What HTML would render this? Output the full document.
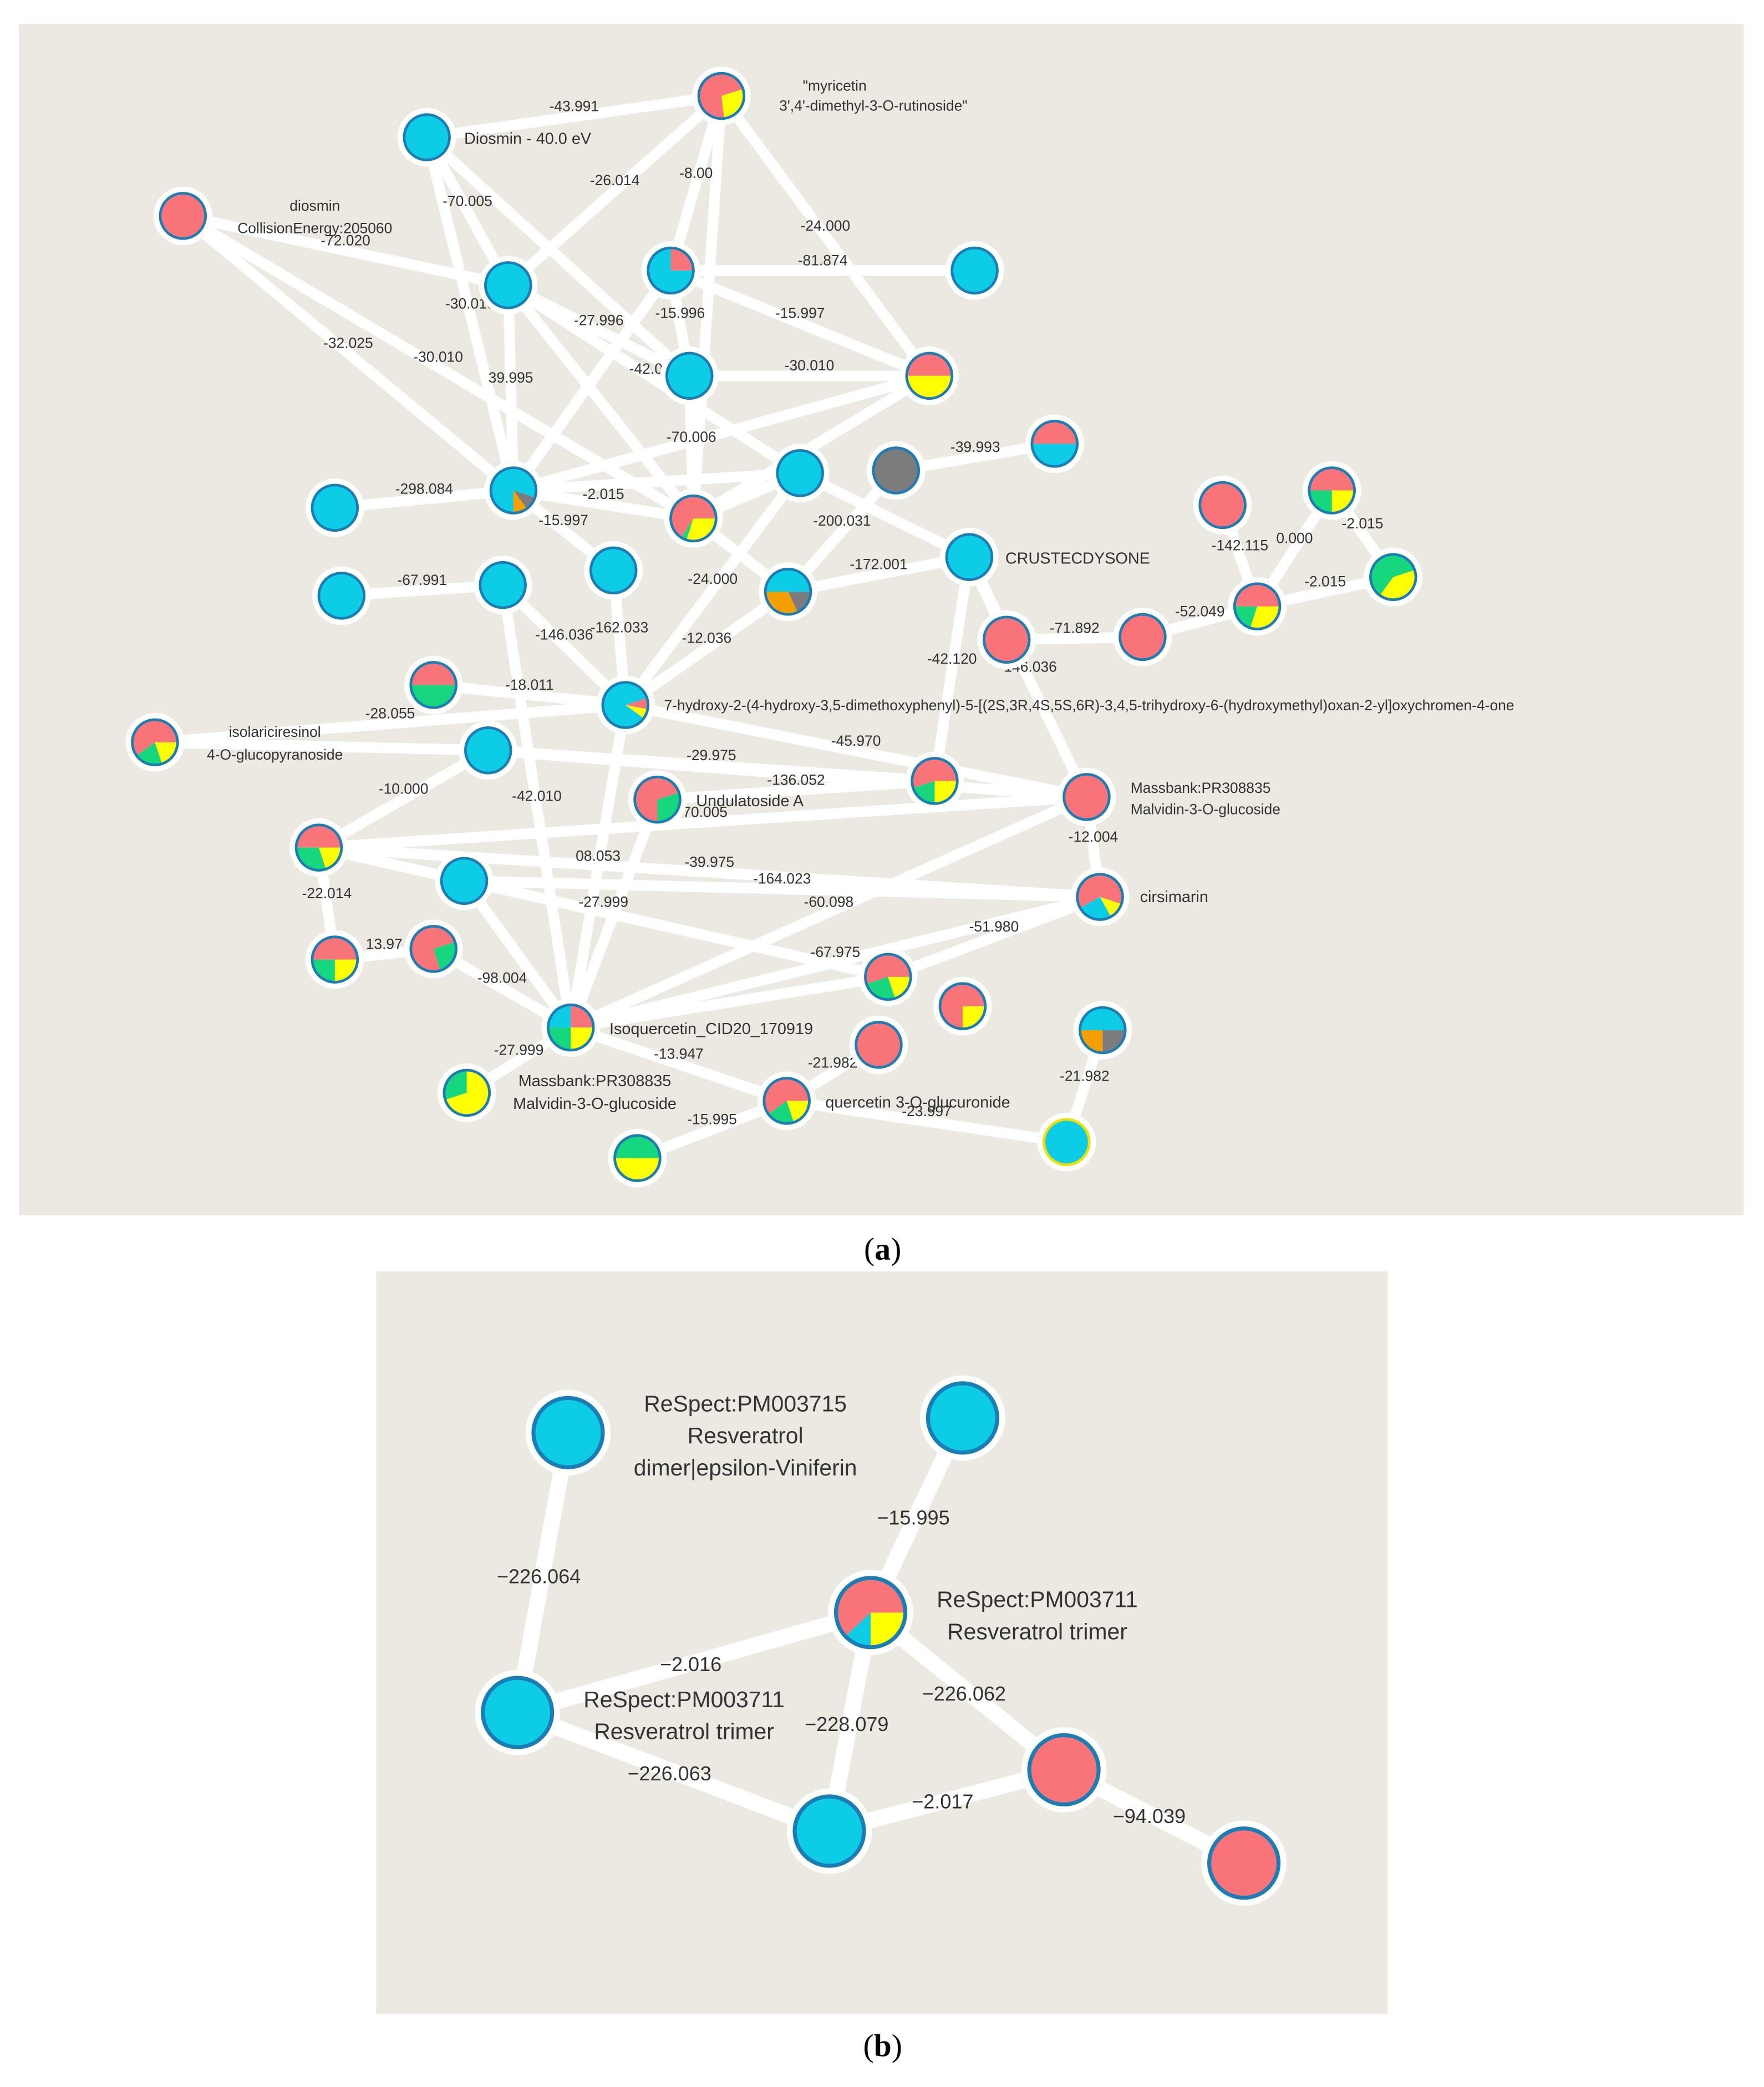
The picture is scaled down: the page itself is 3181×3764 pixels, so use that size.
<!DOCTYPE html>
<html><head><meta charset="utf-8"><style>
html,body{margin:0;padding:0;background:#fff;width:3181px;height:3764px;overflow:hidden}
svg{display:block}
</style></head><body>
<svg id="s" width="3181" height="3764" viewBox="0 0 1323 1566" xmlns="http://www.w3.org/2000/svg" font-family="Liberation Sans, sans-serif">
<rect x="14" y="18" width="1294" height="894" fill="#ece8e2"/>
<rect x="282" y="954" width="759" height="557" fill="#ece8e2"/>
<g id="ea" stroke="#fff" stroke-width="8" stroke-linecap="round"></g>
<g id="eb" stroke="#fff" stroke-width="12" stroke-linecap="round"></g>
<g id="la" font-size="11" fill="#333"></g>
<g id="na"></g>
<g id="tx" fill="#333"></g>
<text x="662" y="945" font-family="Liberation Serif, serif" font-size="24" text-anchor="middle" fill="#000">(<tspan font-weight="bold">a</tspan>)</text>
<text x="662" y="1543" font-family="Liberation Serif, serif" font-size="24" text-anchor="middle" fill="#000">(<tspan font-weight="bold">b</tspan>)</text>
</svg>
<script>
var R='#f87479',B='#0ccce6',Y='#ffff00',G='#16d67e',O='#f5a000',K='#7c7c7c';
var NS='http://www.w3.org/2000/svg';
function el(t,a,p){var e=document.createElementNS(NS,t);for(var k in a)e.setAttribute(k,a[k]);p.appendChild(e);return e;}
function ygr(y,g){return [[Y,y],[G,g],[R,1-y-g]];}
var N={
1:[541,72,[[Y,.28],[R,.72]],.2],2:[320,103,[[B,1]]],3:[137,162,[[R,1]]],4:[381,214,[[B,1]]],
5:[503,203,[[R,.25],[B,.75]]],6:[731,203,[[B,1]]],7:[517,282,[[B,1]]],8:[697,282,[[Y,.5],[R,.5]],.25],
9:[385,368,[[K,.1],[O,.1],[B,.8]],.3],10:[251,381,[[B,1]]],11:[520,389,[[Y,.3],[G,.04],[R,.66]],.25],
12:[600,355,[[B,1]]],13:[672,353,[[K,1]]],14:[791,333,[[B,.5],[R,.5]],.25],15:[256,447,[[B,1]]],
16:[377,439,[[B,1]]],17:[460,428,[[B,1]]],18:[591,444,[[K,.18],[O,.32],[B,.5]],.25],19:[727,418,[[B,1]]],
20:[917,379,[[R,1]]],21:[999,368,ygr(.25,.25),.25],22:[943,455,ygr(.3,.2),.25],
23:[1045,433,[[Y,.4],[G,.6]],.2],24:[857,478,[[R,1]]],25:[755,480,[[R,1]]],26:[325,514,[[G,.5],[R,.5]],.25],
27:[469,529,[[R,.08],[Y,.07],[B,.85]],.2],28:[116,557,ygr(.2,.2),.25],29:[366,563,[[B,1]]],
30:[493,600,[[G,.3],[R,.7]],.2],31:[701,586,ygr(.25,.2),.25],32:[815,598,[[R,1]]],
33:[239,636,ygr(.2,.3),.25],34:[348,661,[[B,1]]],35:[825,673,[[Y,.12],[B,.25],[R,.63]],.3],
36:[251,720,ygr(.25,.25),.25],37:[325,712,[[G,.25],[R,.75]],.2],38:[666,733,ygr(.2,.25),.25],
39:[722,755,[[Y,.25],[R,.75]],.25],40:[428,771,[[R,.25],[Y,.25],[G,.25],[B,.25]],0],41:[659,784,[[R,1]]],
42:[827,773,[[K,.25],[O,.25],[B,.5]],.25],43:[350,820,[[G,.3],[Y,.7]],.7],44:[590,826,ygr(.2,.2),.25],
45:[478,869,[[G,.5],[Y,.5]],.75],46:[800,857,[[B,1]]]
};
var E=[[2,1,'-43.991'],[3,4,'-72.020'],[3,9,'-32.025'],[3,11,'-30.010'],[2,4,'-70.005'],[2,7,''],[2,9,'-30.010'],
[1,4,'-26.014'],[1,5,'-8.00'],[1,11,''],[1,8,'-24.000'],[5,6,'-81.874'],[5,8,'-15.997'],[5,9,''],[5,7,'-15.996'],
[4,7,'-27.996'],[4,9,'39.995'],[4,11,''],[7,8,'-30.010'],[7,11,'-70.006'],[9,10,'-298.084'],[9,11,'-2.015'],
[9,17,'-15.997'],[9,8,''],[11,8,''],[12,11,''],[12,19,''],[13,14,'-39.993'],[12,27,'-24.000'],[18,19,'-172.001'],[18,27,'-12.036'],
[13,18,'-200.031'],[17,27,'-162.033'],[16,27,'-146.036'],[15,16,'-67.991'],[16,40,'-42.010'],[19,31,'-42.120'],[19,32,'-146.036'],
[19,25,''],[25,24,'-71.892'],[24,22,'-52.049'],[20,22,'-142.115'],[21,22,'0.000'],[23,22,'-2.015'],[21,23,'-2.015'],
[26,27,'-18.011'],[28,27,'-28.055'],[28,29,''],[29,31,'-29.975'],[27,32,'-45.970'],[29,33,'-10.000'],[33,35,'-39.975'],
[33,32,'-70.005'],[33,34,''],[34,40,''],[33,36,'-22.014'],[36,37,'13.97'],[37,40,'-98.004'],[30,31,'-136.052'],[30,40,''],
[32,40,'-60.098'],[32,35,'-12.004'],[35,40,'-67.975'],[35,38,'-51.980'],[38,40,''],[40,43,'-27.999'],[40,44,'-13.947'],
[44,41,'-21.982'],[44,45,'-15.995'],[44,46,'-23.997'],[42,46,'-21.982'],[34,35,'-164.023'],[29,32,''],[27,40,'08.053'],
[18,11,''],[9,12,''],[33,38,'-27.999'],[4,12,'-42.010']];
var ea=document.getElementById('ea'),la=document.getElementById('la'),na=document.getElementById('na'),tx=document.getElementById('tx');
E.forEach(function(e){var a=N[e[0]],b=N[e[1]];el('line',{x1:a[0],y1:a[1],x2:b[0],y2:b[1]},ea);
 if(e[2]){var t=el('text',{x:(a[0]+b[0])/2,y:(a[1]+b[1])/2-4,'text-anchor':'middle'},la);t.textContent=e[2];}});
function pie(x,y,r,sl,st,bw,ring){
 el('circle',{cx:x,cy:y,r:r+ring,fill:'#fff'},na);
 if(sl.length==1){el('circle',{cx:x,cy:y,r:r,fill:sl[0][0]},na);}
 else{var a0=(st||0)*2*Math.PI;sl.forEach(function(s){var a1=a0+s[1]*2*Math.PI;
  var x0=x+r*Math.sin(a0),y0=y-r*Math.cos(a0),x1=x+r*Math.sin(a1),y1=y-r*Math.cos(a1);
  el('path',{d:'M'+x+','+y+'L'+x0+','+y0+'A'+r+','+r+' 0 '+(s[1]>.5?1:0)+' 1 '+x1+','+y1+'Z',fill:s[0]},na);a0=a1;});}
 el('circle',{cx:x,cy:y,r:r,fill:'none',stroke:'#1a7db5','stroke-width':bw},na);
}
for(var k in N){var n=N[k];pie(n[0],n[1],17,n[2],n[3],2,5);}
na.lastChild.setAttribute('stroke','#f0e000');
function T(x,y,s,fs,anc,p){var t=el('text',{x:x,y:y,'font-size':fs,'text-anchor':anc||'start'},p||tx);t.textContent=s;}
T(626,68,'"myricetin',11,'middle');T(655,83,"3',4'-dimethyl-3-O-rutinoside\"",11,'middle');
T(348,108,'Diosmin - 40.0 eV',12);T(236,158,'diosmin',11,'middle');T(236,175,'CollisionEnergy:205060',11,'middle');
T(754,423,'CRUSTECDYSONE',12);
T(498,533,'7-hydroxy-2-(4-hydroxy-3,5-dimethoxyphenyl)-5-[(2S,3R,4S,5S,6R)-3,4,5-trihydroxy-6-(hydroxymethyl)oxan-2-yl]oxychromen-4-one',11);
T(206,553,'isolariciresinol',11,'middle');T(206,570,'4-O-glucopyranoside',11,'middle');
T(522,605,'Undulatoside A',12);T(848,595,'Massbank:PR308835',11);T(848,611,'Malvidin-3-O-glucoside',11);
T(855,677,'cirsimarin',12);T(457,776,'Isoquercetin_CID20_170919',12);
T(446,815,'Massbank:PR308835',12,'middle');T(446,832,'Malvidin-3-O-glucoside',12,'middle');
T(619,831,'quercetin 3-O-glucuronide',12);
var M={1:[426,1075,[[B,1]]],2:[722,1064,[[B,1]]],3:[653,1210,[[Y,.25],[B,.13],[R,.62]],.25],4:[388,1285,[[B,1]]],
5:[622,1374,[[B,1]]],6:[798,1328,[[R,1]]],7:[933,1398,[[R,1]]]};
var eb=document.getElementById('eb');
[[1,4,'\u2212226.064',404,1188],[2,3,'\u221215.995',685,1144],[3,4,'\u22122.016',518,1254],[3,5,'\u2212228.079',635,1299],
[3,6,'\u2212226.062',723,1276],[4,5,'\u2212226.063',502,1336],[5,6,'\u22122.017',707,1357],[6,7,'\u221294.039',862,1368]].forEach(function(e){
 var a=M[e[0]],b=M[e[1]];el('line',{x1:a[0],y1:a[1],x2:b[0],y2:b[1]},eb);T(e[3],e[4],e[2],15,'middle');});
for(var k in M){var n=M[k];pie(n[0],n[1],26,n[2],n[3],3,6);}
T(559,1059,'ReSpect:PM003715',17,'middle');T(559,1083,'Resveratrol',17,'middle');T(559,1107,'dimer|epsilon-Viniferin',17,'middle');
T(778,1206,'ReSpect:PM003711',17,'middle');T(778,1230,'Resveratrol trimer',17,'middle');
T(513,1281,'ReSpect:PM003711',17,'middle');T(513,1305,'Resveratrol trimer',17,'middle');
</script>
</body></html>
